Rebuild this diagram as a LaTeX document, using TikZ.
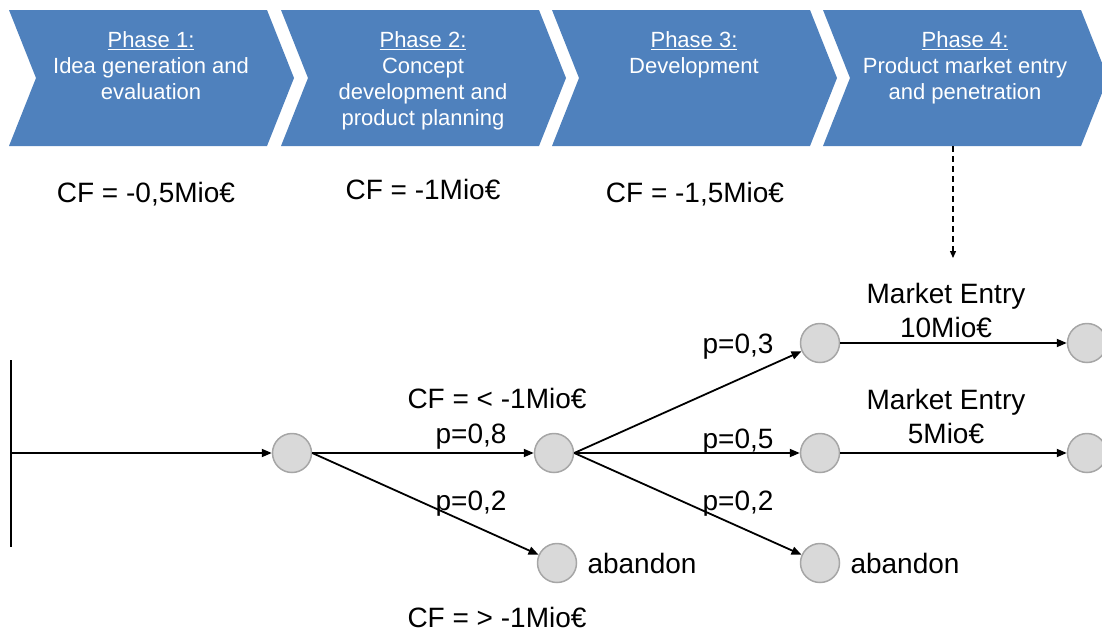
\documentclass[tikz,border=0pt]{standalone}
\usepackage{fontspec}
\setmainfont{Liberation Sans}
\usetikzlibrary{arrows.meta}
\definecolor{phaseblue}{HTML}{4F81BD}
\definecolor{nodefill}{HTML}{D9D9D9}
\definecolor{nodeline}{HTML}{A6A6A6}

\begin{document}
\begin{tikzpicture}[x=1pt,y=-1pt,
  chev/.style={fill=phaseblue, draw=none},
  % multi-line nodes: the base anchor sits on the last line
  phasetext/.style={text=white, font=\fontsize{22}{26}\selectfont, align=center, anchor=base, inner sep=0pt},
  lbl/.style={font=\fontsize{28}{34}\selectfont, align=center, anchor=base, inner sep=0pt},
  state/.style={circle, minimum size=39pt, inner sep=0pt, fill=nodefill, draw=nodeline, line width=1.5pt},
  flow/.style={-{Triangle[length=10pt,width=8pt]}, line width=1.8pt},
  hint/.style={-{Triangle[length=7pt,width=6pt]}, line width=1.3pt, dash pattern=on 6pt off 4pt},
]
\useasboundingbox (0,0) rectangle (1102,632);
\clip (0,0) rectangle (1102,632);

% phase chevrons
\foreach \x in {9,281,552,823}{
  \fill[chev] (\x,10) -- (\x+258,10) -- (\x+285,78) -- (\x+258,146)
              -- (\x,146) -- (\x+27,78) -- cycle;
}
\node[phasetext] (ph1) at (151,99.7) {\underline{Phase 1:}\\Idea generation and\\evaluation};
\node[phasetext] (ph2) at (423,125.7) {\underline{Phase 2:}\\Concept\\development and\\product planning};
\node[phasetext] (ph3) at (694,73.7) {\underline{Phase 3:}\\Development};
\node[phasetext] (ph4) at (965,99.7) {\underline{Phase 4:}\\Product market entry\\and penetration};

% cash flow per phase
\node[lbl] (cf1) at (146,202) {CF = -0,5Mio€};
\node[lbl] (cf2) at (423,199) {CF = -1Mio€};
\node[lbl] (cf3) at (695,202) {CF = -1,5Mio€};

% decision tree
\coordinate (vtop) at (11,360);
\coordinate (vbot) at (11,547);
\coordinate (start) at (11,453);
\draw[line width=1.8pt] (vtop) -- (vbot);

\node[state] (c1) at (292,453) {};
\node[state] (c2) at (554,453) {};
\node[state] (a1) at (557,563) {};
\node[state] (c3) at (820,343) {};
\node[state] (c4) at (820,453) {};
\node[state] (a2) at (820,563) {};
\node[state] (r1) at (1087,343) {};
\node[state] (r2) at (1087,453) {};

\draw[flow] (start) -- (c1);
\draw[flow] (c1.east) -- (c2);
\draw[flow] (c1.east) -- (a1);
\draw[flow] (c2.east) -- (c3);
\draw[flow] (c2.east) -- (c4);
\draw[flow] (c2.east) -- (a2);
\draw[flow] (c3) -- (r1);
\draw[flow] (c4) -- (r2);

% link from phase 4 to the market entry branch
\coordinate (p4foot) at (953,146);
\coordinate (p4end) at (953,258);
\draw[hint] (p4foot) -- (p4end);

% tree labels
\node[lbl] (cfu) at (497,408) {CF = < -1Mio€};
\node[lbl] (cfd) at (497,627) {CF = > -1Mio€};
\node[lbl] (p08) at (471,443) {p=0,8};
\node[lbl] (p02a) at (471,510) {p=0,2};
\node[lbl] (p03) at (738,353) {p=0,3};
\node[lbl] (p05) at (738,448) {p=0,5};
\node[lbl] (p02b) at (738,510) {p=0,2};
\node[lbl] (ab1) at (642,573) {abandon};
\node[lbl] (ab2) at (905,573) {abandon};
\node[lbl] (me10) at (946,337) {Market Entry\\10Mio€};
\node[lbl] (me5) at (946,443) {Market Entry\\5Mio€};
\end{tikzpicture}
\end{document}
